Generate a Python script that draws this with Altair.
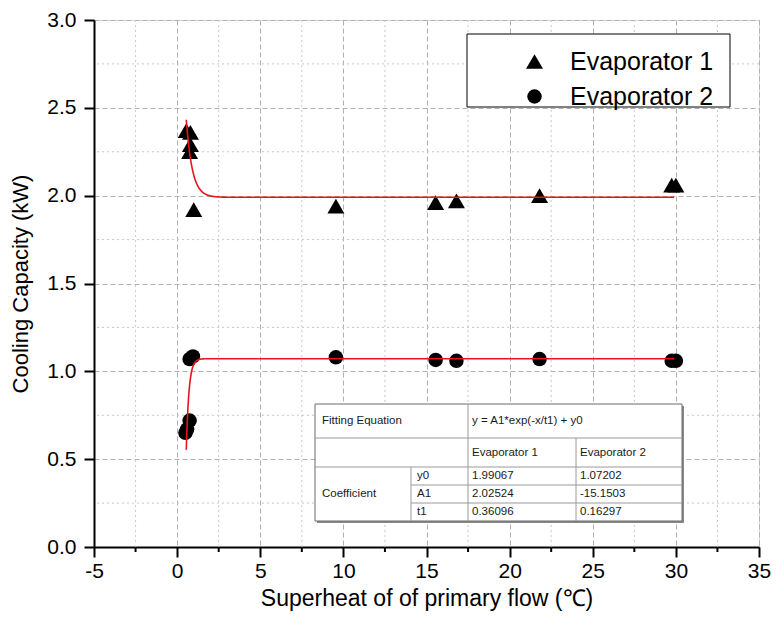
import altair as alt
import pandas as pd

# ---------------- data ----------------
series_names = ["Evaporator 1", "Evaporator 2"]

evap1_x = [0.55, 0.8, 0.8, 0.75, 1.0, 9.55, 15.55, 16.8, 21.8, 29.75, 30.0]
evap1_y = [2.37, 2.36, 2.29, 2.25, 1.92, 1.94, 1.96, 1.97, 2.00, 2.06, 2.06]

evap2_x = [0.5, 0.6, 0.75, 0.75, 0.95, 9.55, 15.55, 16.8, 21.8, 29.75, 30.0]
evap2_y = [0.65, 0.67, 0.72, 1.07, 1.085, 1.08, 1.065, 1.06, 1.07, 1.06, 1.06]

# fit coefficients (from the table in the chart)
coef_names = ["y0", "A1", "t1"]
fit_y0 = [1.99067, 1.07202]
fit_A1 = [2.02524, -15.1503]
fit_t1 = [0.36096, 0.16297]
fit_x_range = [0.55, 29.9]

table_header = ["Fitting Equation", "y = A1*exp(-x/t1) + y0"]
table_row_label = "Coefficient"

x_major = [-5, 0, 5, 10, 15, 20, 25, 30, 35]
x_minor = [-2.5, 2.5, 7.5, 12.5, 17.5, 22.5, 27.5, 32.5]
y_major = [0.0, 0.5, 1.0, 1.5, 2.0, 2.5, 3.0]
y_minor = [0.25, 0.75, 1.25, 1.75, 2.25, 2.75]

# ---------------- layout ----------------
W, H = 665, 527
PAD_L, PAD_T = 86, 12
PL, PT = 8 + PAD_L, 8 + PAD_T          # page position of the plot origin
XD = [-5, 35]
YD = [0, 3]
FONT = "Liberation Sans"


def dx(page_x):
    return XD[0] + (page_x - PL) / W * (XD[1] - XD[0])


def dy(page_y):
    return YD[1] - (page_y - PT) / H * (YD[1] - YD[0])


xscale = alt.Scale(domain=XD, nice=False, zero=False)
yscale = alt.Scale(domain=YD, nice=False, zero=False)

hyphen = "replace(datum.label, '\u2212', '-')"

x_axis = alt.Axis(
    values=x_major, title="Superheat of of primary flow (℃)", grid=True,
    gridColor="#b0b0b0", gridDash=[5, 3], gridWidth=1,
    domainColor="black", domainWidth=2, tickColor="black", tickWidth=2, tickSize=10,
    labelFont=FONT, labelFontSize=21, labelColor="black", labelPadding=3,
    titleFont=FONT, titleFontSize=23, titleFontWeight="normal", titleColor="black",
    titlePadding=6, labelFlush=False, labelOverlap=False, labelExpr=hyphen,
)
y_axis = alt.Axis(
    values=y_major, format=".1f", title="Cooling Capacity (kW)", grid=True,
    gridColor="#b0b0b0", gridDash=[5, 3], gridWidth=1,
    domainColor="black", domainWidth=2, tickColor="black", tickWidth=2, tickSize=10,
    labelFont=FONT, labelFontSize=21, labelColor="black", labelPadding=8,
    titleFont=FONT, titleFontSize=22, titleFontWeight="normal", titleColor="black",
    titlePadding=14, labelFlush=False, labelOverlap=False,
)

X = lambda f="x": alt.X(f"{f}:Q", scale=xscale, axis=x_axis)
Y = lambda f="y": alt.Y(f"{f}:Q", scale=yscale, axis=y_axis)

# points
pts = pd.DataFrame({
    "series": [series_names[0]] * len(evap1_x) + [series_names[1]] * len(evap2_x),
    "x": evap1_x + evap2_x,
    "y": evap1_y + evap2_y,
})

# minor grid
minor_x_df = pd.DataFrame({"x": x_minor})
minor_y_df = pd.DataFrame({"y": y_minor})

minor_grid_x = alt.Chart(minor_x_df).mark_rule(
    color="#c8c8c8", strokeDash=[2, 3], strokeWidth=1
).encode(x=X())
minor_grid_y = alt.Chart(minor_y_df).mark_rule(
    color="#c8c8c8", strokeDash=[2, 3], strokeWidth=1
).encode(y=Y())
minor_ticks_x = alt.Chart(minor_x_df).mark_rule(color="black", strokeWidth=2).encode(
    x=X(), y=alt.value(H), y2=alt.value(H + 5)
)

# legend frame (page coords 467..730 x 34..107)
legend_box = pd.DataFrame({"x": [dx(467)], "x2": [dx(730)], "y": [dy(34)], "y2": [dy(107)]})
legend_frame = alt.Chart(legend_box).mark_rect(fill="white", stroke="black", strokeWidth=1).encode(
    x=X(), x2="x2:Q", y=Y(), y2="y2:Q")

legend = alt.Legend(
    title=None, orient="none", legendX=467 - PL, legendY=35 - PT,
    padding=14,
    labelFont=FONT, labelFontSize=25, labelColor="black",
    symbolOffset=41, labelOffset=23, rowPadding=9,
)

points = alt.Chart(pts).mark_point(filled=True, opacity=1).encode(
    x=X(), y=Y(),
    shape=alt.Shape("series:N", scale=alt.Scale(domain=series_names, range=["triangle-up", "circle"]),
                    legend=legend),
    color=alt.Color("series:N", scale=alt.Scale(domain=series_names, range=["black", "black"]),
                    legend=legend),
    size=alt.Size("series:N", scale=alt.Scale(domain=series_names, range=[289, 210]),
                  legend=legend),
)

fit = alt.Chart(alt.sequence(fit_x_range[0], fit_x_range[1], 0.01, as_="x")).transform_calculate(
    **{
        series_names[0]: f"{fit_A1[0]}*exp(-datum.x/{fit_t1[0]})+{fit_y0[0]}",
        series_names[1]: f"{fit_A1[1]}*exp(-datum.x/{fit_t1[1]})+{fit_y0[1]}",
    }
).transform_fold(series_names, as_=["fseries", "y"]).mark_line(
    color="#e8141b", strokeWidth=1.6
).encode(x=X(), y=Y(), detail="fseries:N")

# ---------------- table (annotation, page coords) ----------------
tl, tr = 315, 682
c1, c2, c3 = 411, 468, 576
tt, r1, r2, r3, r4, tb = 404, 438, 467, 485, 503, 521

shadow = pd.DataFrame({"x": [dx(tl + 2)], "x2": [dx(tr + 2)], "y": [dy(tt + 2)], "y2": [dy(tb + 2)]})
box = pd.DataFrame({"x": [dx(tl)], "x2": [dx(tr)], "y": [dy(tt)], "y2": [dy(tb)]})

shadow_rect = alt.Chart(shadow).mark_rect(fill="#8a8a8a").encode(
    x=X(), x2="x2:Q", y=Y(), y2="y2:Q")
box_rect = alt.Chart(box).mark_rect(fill="white", stroke="#6a6a6a", strokeWidth=1).encode(
    x=X(), x2="x2:Q", y=Y(), y2="y2:Q")

lines = [
    (tl, r1, tr, r1), (tl, r2, tr, r2),
    (c1, r3, tr, r3), (c1, r4, tr, r4),
    (c2, tt, c2, tb), (c3, r1, c3, tb), (c1, r2, c1, tb),
]
lines_df = pd.DataFrame({
    "x": [dx(a[0]) for a in lines], "y": [dy(a[1]) for a in lines],
    "x2": [dx(a[2]) for a in lines], "y2": [dy(a[3]) for a in lines],
})
table_lines = alt.Chart(lines_df).mark_rule(color="#9a9a9a", strokeWidth=1).encode(
    x=X(), y=Y(), x2="x2:Q", y2="y2:Q")

tx = [tl + 7, c1 + 6, c2 + 4, c3 + 4]
row_y = [(tt + r1) / 2, (r1 + r2) / 2, (r2 + r3) / 2, (r3 + r4) / 2, (r4 + tb) / 2]
cells = [
    (tx[0], row_y[0], table_header[0]),
    (tx[2], row_y[0], table_header[1]),
    (tx[2], row_y[1], series_names[0]),
    (tx[3], row_y[1], series_names[1]),
    (tx[0], row_y[3], table_row_label),
]
for i, name in enumerate(coef_names):
    cells.append((tx[1], row_y[2 + i], name))
for i, vals in enumerate([fit_y0, fit_A1, fit_t1]):
    cells.append((tx[2], row_y[2 + i], str(vals[0])))
    cells.append((tx[3], row_y[2 + i], str(vals[1])))
cells_df = pd.DataFrame({
    "x": [dx(c[0]) for c in cells], "y": [dy(c[1]) for c in cells], "text": [c[2] for c in cells]
})
table_text = alt.Chart(cells_df).mark_text(
    align="left", baseline="middle", font=FONT, fontSize=11.5, color="#1a1a1a"
).encode(x=X(), y=Y(), text="text:N")

chart = alt.layer(
    minor_grid_x, minor_grid_y, minor_ticks_x, legend_frame, points, fit,
    shadow_rect, box_rect, table_lines, table_text,
).properties(
    width=W, height=H,
    autosize=alt.AutoSizeParams(type="none"),
    padding={"left": PAD_L, "top": PAD_T, "right": 12, "bottom": 66},
).configure_view(stroke="black", strokeWidth=2).configure(background="white")

chart.save("out.html", embed_options={"renderer": "svg", "actions": False})
